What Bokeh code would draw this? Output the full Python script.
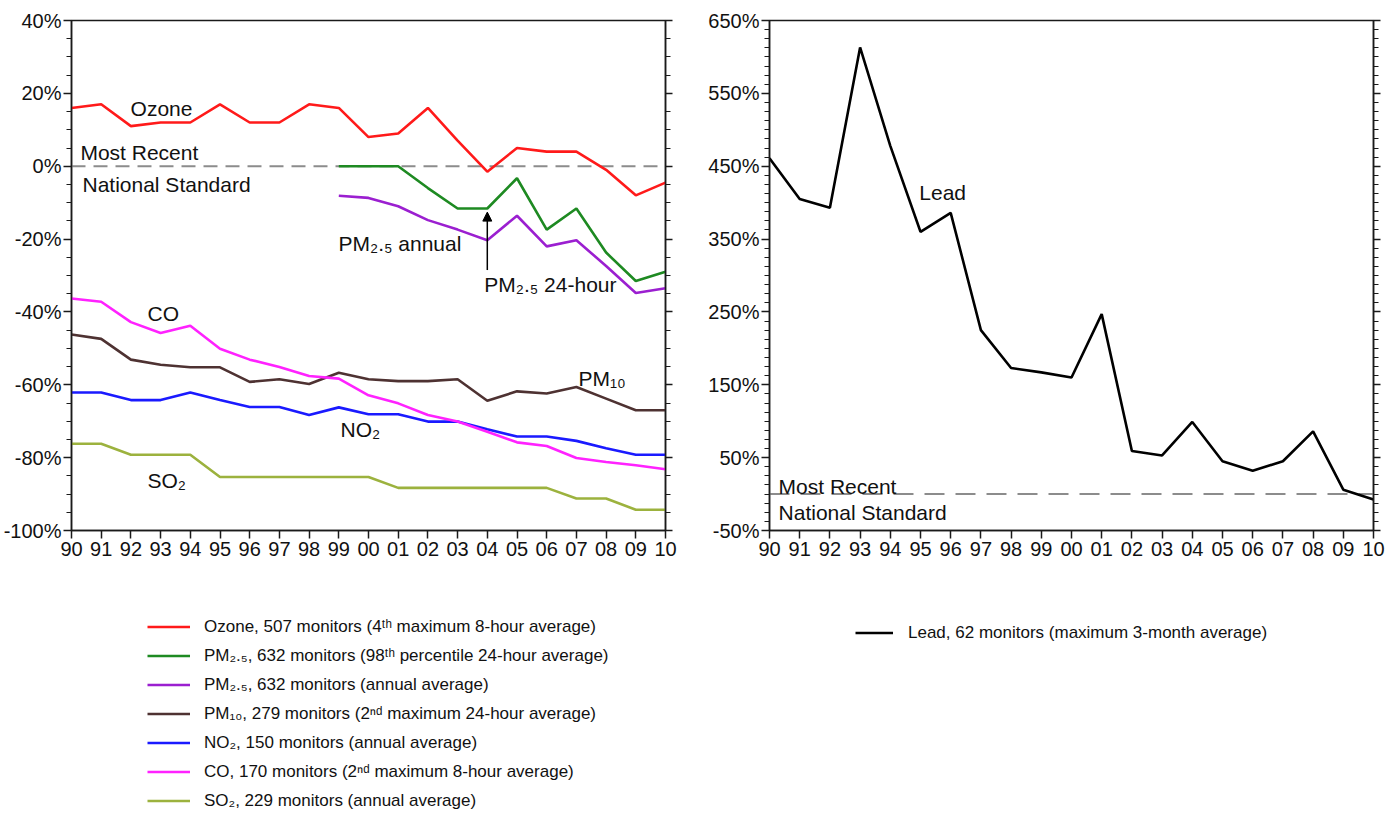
from bokeh.plotting import figure
from bokeh.models import (Range1d, FixedTicker, LinearAxis, Span, Label, Legend,
                          LegendItem, Arrow, NormalHead, PrintfTickFormatter)
from bokeh.layouts import row, column
from bokeh.embed import file_html
from bokeh.resources import INLINE

# ---------------- data ----------------
years = list(range(1990, 2011))
year_labels = ["90", "91", "92", "93", "94", "95", "96", "97", "98", "99", "00",
               "01", "02", "03", "04", "05", "06", "07", "08", "09", "10"]
pm_years = list(range(1999, 2011))

ozone = [16, 17, 11, 12, 12, 17, 12, 12, 17, 16, 8, 9, 16, 7, -1.5, 5, 4, 4, -1, -8, -4.5]
pm25_24h = [0, 0, 0, -6, -11.6, -11.6, -3.3, -17.4, -11.6, -23.7, -31.5, -29]
pm25_annual = [-8.1, -8.7, -11, -14.8, -17.4, -20.3, -13.6, -22, -20.3, -27.4, -34.8, -33.5]
pm10 = [-46.2, -47.4, -53.1, -54.5, -55.2, -55.2, -59.2, -58.5, -59.8, -56.7, -58.5,
        -59, -59, -58.5, -64.4, -61.8, -62.4, -60.6, -63.8, -67, -67]
no2 = [-62.1, -62.1, -64.2, -64.2, -62.1, -64.2, -66.1, -66.1, -68.3, -66.2, -68.1,
       -68.1, -70.1, -70.1, -72.2, -74.2, -74.2, -75.4, -77.4, -79.2, -79.2]
co = [-36.3, -37.2, -42.8, -45.8, -43.8, -50.1, -53.1, -55.1, -57.6, -58.3, -62.9,
      -65.1, -68.3, -70.1, -72.9, -75.8, -76.8, -80.1, -81.2, -82.1, -83.2]
so2 = [-76.2, -76.2, -79.2, -79.2, -79.2, -85.3, -85.3, -85.3, -85.3, -85.3, -85.3,
       -88.3, -88.3, -88.3, -88.3, -88.3, -88.3, -91.2, -91.2, -94.3, -94.3]
lead = [461, 405, 393, 613, 478, 360, 386, 225, 173, 167, 160, 247, 59, 53, 99, 45,
        32, 45, 86, 6, -7.5]

left_ticks = [-100, -80, -60, -40, -20, 0, 20, 40]
left_minor = list(range(-100, 41, 5))
right_ticks = [-50, 50, 150, 250, 350, 450, 550, 650]
right_minor = [-50 + 12.5 * i for i in range(57)]

legend_left = [
    "Ozone, 507 monitors (4ᵗʰ maximum 8-hour average)",
    "PM₂.₅, 632 monitors (98ᵗʰ percentile 24-hour average)",
    "PM₂.₅, 632 monitors (annual average)",
    "PM₁₀, 279 monitors (2ⁿᵈ maximum 24-hour average)",
    "NO₂, 150 monitors (annual average)",
    "CO, 170 monitors (2ⁿᵈ maximum 8-hour average)",
    "SO₂, 229 monitors (annual average)",
]
legend_right = "Lead, 62 monitors (maximum 3-month average)"

colors = ["#ff1a1a", "#1e8a22", "#9b1fd0", "#4e3232", "#1a1aff", "#ff22ff", "#9cb23e"]
lead_color = "black"

FONT = "Liberation Sans"
TICK_FS = "20px"
LBL_FS = "21px"
LEG_FS = "17px"
AX_COL = "#1a1a1a"
LW = 2.6
NAN = float("nan")


def style(p, yticks, yminor):
    p.outline_line_color = AX_COL
    p.outline_line_width = 1.5
    p.xgrid.visible = False
    p.ygrid.visible = False
    p.background_fill_color = "white"
    p.border_fill_color = "white"

    xa = p.xaxis[0]
    xa.ticker = FixedTicker(ticks=years)
    xa.major_label_overrides = {y: l for y, l in zip(years, year_labels)}
    xa.major_tick_in = 0
    xa.major_tick_out = 8
    xa.major_label_standoff = 3

    ya = p.yaxis[0]
    ya.ticker = FixedTicker(ticks=yticks, minor_ticks=yminor)
    ya.formatter = PrintfTickFormatter(format="%d%%")
    ya.major_tick_in = 0
    ya.major_tick_out = 8
    ya.minor_tick_in = 0
    ya.minor_tick_out = 5
    ya.major_label_standoff = 2

    ra = LinearAxis(ticker=FixedTicker(ticks=yticks, minor_ticks=yminor))
    ra.major_label_overrides = {t: "" for t in yticks}
    ra.major_tick_in = 0
    ra.major_tick_out = 7
    ra.minor_tick_in = 0
    ra.minor_tick_out = 5
    ra.major_label_standoff = 0
    p.add_layout(ra, "right")

    for ax in [xa, ya, ra]:
        ax.axis_line_color = AX_COL
        ax.axis_line_width = 1.5
        ax.major_tick_line_color = AX_COL
        ax.major_tick_line_width = 1.5
        ax.minor_tick_line_color = AX_COL if ax is not xa else None
        ax.minor_tick_line_width = 1.2
        ax.major_label_text_font = FONT
        ax.major_label_text_font_size = TICK_FS
        ax.major_label_text_color = "#111111"


def label(p, x, y, text):
    p.add_layout(Label(x=x, y=y, text=text, text_font=FONT, text_font_size=LBL_FS,
                       text_color="#111111", text_align="left", text_baseline="middle"))


def legend_fig(width, height):
    f = figure(width=width, height=height, x_range=Range1d(0, 1), y_range=Range1d(0, 1),
               x_axis_location=None, y_axis_location=None, output_backend="svg",
               toolbar_location=None, min_border=0, outline_line_color=None)
    f.xgrid.visible = False
    f.ygrid.visible = False
    f.background_fill_color = "white"
    f.border_fill_color = "white"
    return f


HM = 572   # main chart height
HL = 240   # legend strip height
W1, W2 = 705, 685

# ---------------- left chart ----------------
p1 = figure(width=W1, height=HM, x_range=Range1d(1990, 2010), y_range=Range1d(-100, 40),
            output_backend="svg", toolbar_location=None,
            min_border_left=71, min_border_right=W1 - 665, min_border_top=17,
            min_border_bottom=HM - 530)
style(p1, left_ticks, left_minor)

p1.add_layout(Span(location=0, dimension="width", line_color="#8c8c8c", line_width=2,
                   line_dash="14 8", level="underlay"))

series = [(years, ozone), (pm_years, pm25_24h), (pm_years, pm25_annual), (years, pm10),
          (years, no2), (years, co), (years, so2)]
for (xs, ys), c in zip(series, colors):
    p1.line(xs, ys, line_color=c, line_width=LW)

label(p1, 1991.99, 15.9, "Ozone")
label(p1, 1990.3, 3.7, "Most Recent")
label(p1, 1990.37, -5.1, "National Standard")
label(p1, 1998.99, -21.2, "PM₂.₅ annual")
label(p1, 2003.9, -32.6, "PM₂.₅ 24-hour")
label(p1, 1992.56, -40.3, "CO")
label(p1, 2007.07, -58.3, "PM₁₀")
label(p1, 1999.06, -72.2, "NO₂")
label(p1, 1992.56, -86.4, "SO₂")

p1.add_layout(Arrow(end=NormalHead(size=9, fill_color="black", line_color="black"),
                    x_start=2004, y_start=-28.5, x_end=2004, y_end=-12.6,
                    line_color="black", line_width=1.5))

# ---------------- right chart ----------------
p2 = figure(width=W2, height=HM, x_range=Range1d(1990, 2010), y_range=Range1d(-50, 650),
            output_backend="svg", toolbar_location=None,
            min_border_left=768 - W1, min_border_right=W1 + W2 - 1373, min_border_top=20,
            min_border_bottom=HM - 530)
style(p2, right_ticks, right_minor)

p2.add_layout(Span(location=0, dimension="width", line_color="#8c8c8c", line_width=2,
                   line_dash="20 11", level="underlay"))
p2.line(years, lead, line_color=lead_color, line_width=LW)

label(p2, 1994.96, 414, "Lead")
label(p2, 1990.3, 10.4, "Most Recent")
label(p2, 1990.3, -25.3, "National Standard")

# ---------------- legends (separate strips below the charts) ----------------
l1 = legend_fig(W1, HL)
leg_r1 = [l1.line([NAN], [NAN], line_color=c, line_width=LW) for c in colors]
leg1 = Legend(items=[LegendItem(label=t, renderers=[r]) for t, r in zip(legend_left, leg_r1)],
              location=(147, 1), orientation="vertical",
              border_line_color=None, background_fill_alpha=0, padding=0, margin=0,
              glyph_width=43, glyph_height=21, label_height=21, spacing=8,
              label_standoff=14, label_text_font=FONT, label_text_font_size=LEG_FS,
              label_text_color="#111111")
l1.add_layout(leg1)

l2 = legend_fig(W2, HL)
leg_r2 = l2.line([NAN], [NAN], line_color=lead_color, line_width=LW)
leg2 = Legend(items=[LegendItem(label=legend_right, renderers=[leg_r2])],
              location=(150, 169), border_line_color=None, background_fill_alpha=0,
              padding=0, margin=0, glyph_width=38, glyph_height=21, label_height=21,
              label_standoff=15, label_text_font=FONT, label_text_font_size=LEG_FS,
              label_text_color="#111111")
l2.add_layout(leg2)

layout = column(row(p1, p2, spacing=0), row(l1, l2, spacing=0), spacing=0)
open("out.html", "w").write(file_html(layout, INLINE))
